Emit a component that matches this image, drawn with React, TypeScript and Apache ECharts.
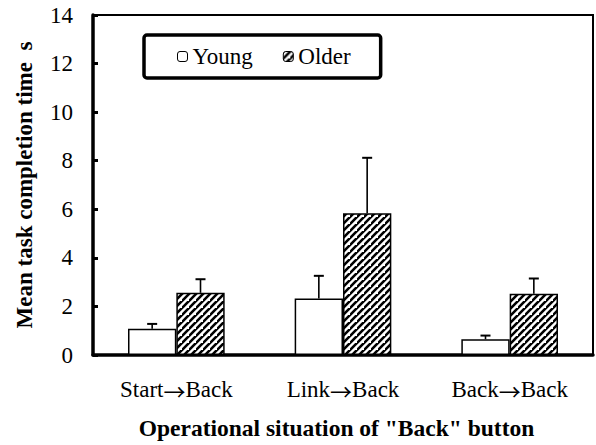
import React, { useEffect, useRef } from "react";
import * as echarts from "echarts";

const categories = ["Start→Back", "Link→Back", "Back→Back"];
const youngMeans = [1.08, 2.33, 0.65];
const olderMeans = [2.56, 5.84, 2.52];
const youngSD = [0.2, 0.93, 0.15];
const olderSD = [0.56, 2.28, 0.63];
const yTicks = { min: 0, max: 14, interval: 2 };

const FONT = "Liberation Serif";
const CJK = "Noto Sans CJK SC";
const BAR_FRAC = 0.29;

function makeHatch(): HTMLCanvasElement {
  const n = 7;
  const c = document.createElement("canvas");
  c.width = n;
  c.height = n;
  const ctx = c.getContext("2d")!;
  ctx.fillStyle = "#fff";
  ctx.fillRect(0, 0, n, n);
  ctx.strokeStyle = "#000";
  ctx.lineWidth = 2.6;
  ctx.beginPath();
  ctx.moveTo(-1, n + 1);
  ctx.lineTo(n + 1, -1);
  ctx.moveTo(-n - 1, n + 1);
  ctx.lineTo(1, -1);
  ctx.moveTo(n - 1, 2 * n + 1);
  ctx.lineTo(2 * n + 1, n - 1);
  ctx.stroke();
  return c;
}

export default function App() {
  const ref = useRef<HTMLDivElement>(null);
  useEffect(() => {
    if (!ref.current) return;
    const chart = echarts.init(ref.current, null, { renderer: "svg" });
    const hatch = makeHatch();

    const errRender = (sign: number) => (params: any, api: any) => {
      const idx = api.value(0);
      const mean = api.value(1);
      const sd = api.value(2);
      const band = api.size([1, 0])[0];
      const off = (sign * band * BAR_FRAC) / 2;
      const base = api.coord([idx, mean]);
      const top = api.coord([idx, mean + sd]);
      const x = base[0] + off;
      return {
        type: "group",
        children: [
          {
            type: "line",
            shape: { x1: x, y1: base[1], x2: x, y2: top[1] },
            style: { stroke: "#000", lineWidth: 1.6 },
          },
          {
            type: "line",
            shape: { x1: x - 5, y1: top[1], x2: x + 5, y2: top[1] },
            style: { stroke: "#000", lineWidth: 2 },
          },
        ],
      };
    };

    const serifRich = { t: { fontFamily: FONT, fontSize: 23, color: "#000", lineHeight: 23 } };

    chart.setOption({
      animation: false,
      backgroundColor: "#fff",
      textStyle: { fontFamily: FONT, color: "#000" },
      grid: {
        left: 93,
        right: 3,
        top: 15,
        bottom: 87,
        show: true,
        borderColor: "#000",
        borderWidth: 2,
      },
      legend: {
        data: ["Young", "Older"],
        left: 144,
        top: 35,
        orient: "horizontal",
        itemWidth: 10,
        itemHeight: 10,
        itemGap: 30,
        padding: [10, 30, 10, 33],
        borderColor: "#000",
        borderWidth: 3.5,
        borderRadius: 3,
        backgroundColor: "#fff",
        formatter: (name: string) => `{t|${name}}`,
        textStyle: {
          fontFamily: FONT,
          fontSize: 23,
          color: "#000",
          lineHeight: 23,
          rich: serifRich,
        },
        itemStyle: { borderColor: "#000", borderWidth: 1 },
      },
      xAxis: {
        type: "category",
        data: categories,
        name: 'Operational situation of "Back" button',
        nameLocation: "middle",
        nameGap: 61,
        nameTextStyle: {
          fontFamily: FONT,
          fontSize: 23.5,
          fontWeight: "bold",
          color: "#000",
          padding: [0, 13, 0, 0],
        },
        axisLine: { lineStyle: { color: "#000", width: 3.5 } },
        axisTick: { inside: true, length: 6, lineStyle: { color: "#000", width: 2 } },
        axisLabel: {
          interval: 0,
          fontFamily: FONT,
          fontSize: 23,
          color: "#000",
          margin: 23,
          lineHeight: 23,
          formatter: (v: string) => v.split("→").join("{a|→}"),
          rich: {
            a: { fontFamily: CJK, fontSize: 22, color: "#000", lineHeight: 23 },
          },
        },
      },
      yAxis: {
        type: "value",
        min: yTicks.min,
        max: yTicks.max,
        interval: yTicks.interval,
        name: "Mean task completion time  s",
        nameLocation: "middle",
        nameGap: 57,
        nameRotate: 90,
        nameTextStyle: { fontFamily: FONT, fontSize: 23, fontWeight: "bold", color: "#000" },
        splitLine: { show: false },
        axisLine: { show: true, lineStyle: { color: "#000", width: 3.5 } },
        axisTick: { show: true, inside: true, length: 5, lineStyle: { color: "#000", width: 3 } },
        axisLabel: {
          fontFamily: FONT,
          fontSize: 23,
          color: "#000",
          margin: 20,
          formatter: (v: number) => `{t|${v}}`,
          rich: serifRich,
        },
      },
      series: [
        {
          name: "Young",
          type: "bar",
          data: youngMeans,
          barWidth: `${BAR_FRAC * 100}%`,
          barGap: "0%",
          itemStyle: { color: "#fff", borderColor: "#000", borderWidth: 1.5 },
        },
        {
          name: "Older",
          type: "bar",
          data: olderMeans,
          barWidth: `${BAR_FRAC * 100}%`,
          barGap: "0%",
          itemStyle: {
            color: { image: hatch, repeat: "repeat" },
            borderColor: "#000",
            borderWidth: 1.5,
          },
        },
        {
          name: "YoungErr",
          type: "custom",
          renderItem: errRender(-1),
          data: youngMeans.map((m, i) => [i, m, youngSD[i]]),
          z: 5,
        },
        {
          name: "OlderErr",
          type: "custom",
          renderItem: errRender(1),
          data: olderMeans.map((m, i) => [i, m, olderSD[i]]),
          z: 5,
        },
      ],
    });
    return () => chart.dispose();
  }, []);
  return <div ref={ref} style={{ width: 596, height: 445, position: "absolute", left: 0, top: 0 }} />;
}
